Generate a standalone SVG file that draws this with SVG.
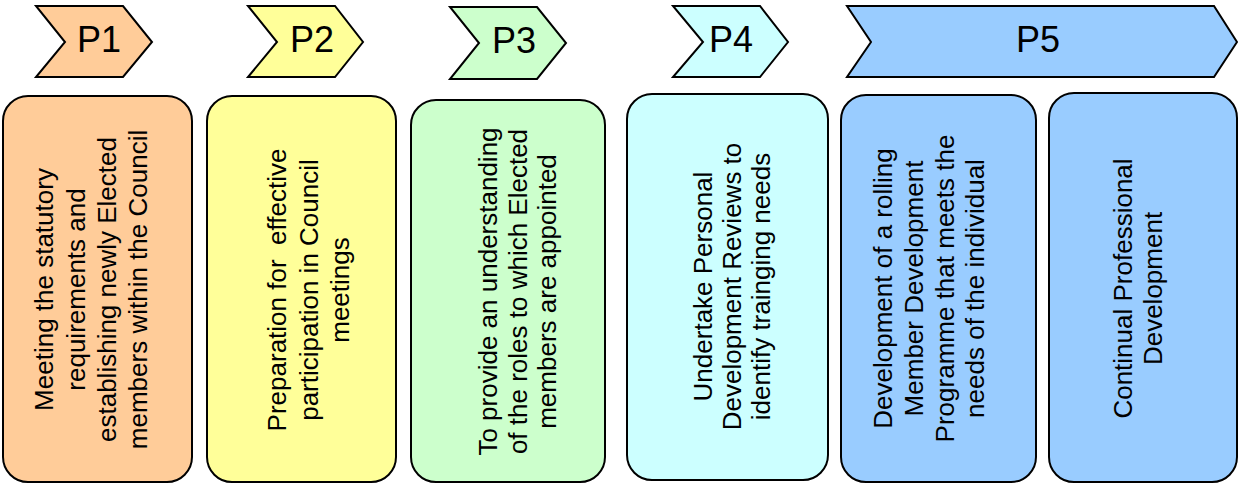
<svg xmlns="http://www.w3.org/2000/svg" width="1238" height="484" viewBox="0 0 1238 484">
<style>
.sh{stroke:#000;stroke-width:2;stroke-linejoin:miter}
.lbl{font-family:"Liberation Sans",Arial,sans-serif;font-size:36px;fill:#000;text-anchor:middle}
.txt{font-family:"Liberation Sans",Arial,sans-serif;font-size:26px;fill:#000;text-anchor:middle}
.c1{fill:#FFCC99}.c2{fill:#FFFF99}.c3{fill:#CCFFCC}.c4{fill:#CCFFFF}.c5{fill:#99CCFF}
</style>
<rect width="1238" height="484" fill="#fff"/>
<g id="P1"><polygon class="sh c1" points="36,6 123,6 152,42 123,77 36,77 65,42"/><text class="lbl" x="99" y="52">P1</text></g>
<g id="P2"><polygon class="sh c2" points="248,6 335,6 363,42 335,77 248,77 277,42"/><text class="lbl" x="312" y="52">P2</text></g>
<g id="P3"><polygon class="sh c3" points="450,7 537,7 566,43 537,79 450,79 479,43"/><text class="lbl" x="514" y="53">P3</text></g>
<g id="P4"><polygon class="sh c4" points="673,6 760,6 788,42 760,77 673,77 703,42"/><text class="lbl" x="731" y="52">P4</text></g>
<g id="P5"><polygon class="sh c5" points="847,6 1214,6 1237,42 1214,77 847,77 871,42"/><text class="lbl" x="1038" y="52">P5</text></g>
<g id="box1"><rect class="sh c1" x="3" y="96" width="189" height="386" rx="25"/>
<text class="txt" transform="translate(0,289.5) rotate(-90)"><tspan x="0" y="53">Meeting the statutory</tspan><tspan x="0" y="84.5">requirements and</tspan><tspan x="0" y="116">establishing newly Elected</tspan><tspan x="0" y="147">members within the Council</tspan></text></g>
<g id="box2"><rect class="sh c2" x="207" y="96" width="189" height="386" rx="25"/>
<text class="txt" transform="translate(0,290) rotate(-90)" xml:space="preserve"><tspan x="0" y="286">Preparation for  effective</tspan><tspan x="0" y="317.5">participation in Council</tspan><tspan x="0" y="349">meetings</tspan></text></g>
<g id="box3"><rect class="sh c3" x="411" y="100" width="194" height="382" rx="25"/>
<text class="txt" transform="translate(0,291.5) rotate(-90)"><tspan x="0" y="497">To provide an understanding</tspan><tspan x="0" y="526.5">of the roles to which Elected</tspan><tspan x="0" y="556">members are appointed</tspan></text></g>
<g id="box4"><rect class="sh c4" x="627" y="94" width="201" height="386" rx="25"/>
<text class="txt" transform="translate(0,286.5) rotate(-90)"><tspan x="0" y="712">Undertake Personal</tspan><tspan x="0" y="741">Development Reviews to</tspan><tspan x="0" y="770">identify trainging needs</tspan></text></g>
<g id="box5"><rect class="sh c5" x="841" y="95" width="195" height="387" rx="25"/>
<text class="txt" transform="translate(0,288.5) rotate(-90)"><tspan x="0" y="892">Development of a rolling</tspan><tspan x="0" y="923">Member Development</tspan><tspan x="0" y="953.5">Programme that meets the</tspan><tspan x="0" y="984">needs of the individual</tspan></text></g>
<g id="box6"><rect class="sh c5" x="1049" y="93" width="188" height="389" rx="25"/>
<text class="txt" transform="translate(0,288.5) rotate(-90)"><tspan x="0" y="1132">Continual Professional</tspan><tspan x="0" y="1162">Development</tspan></text></g>
<g id="connectors"></g>
</svg>
